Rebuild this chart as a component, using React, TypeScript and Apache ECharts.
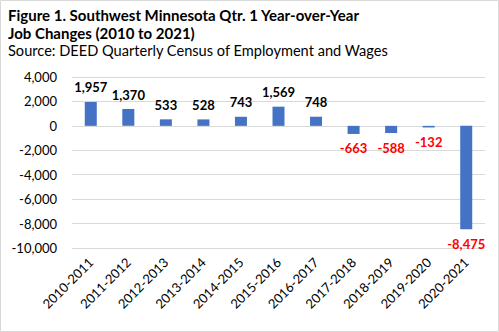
import React, { useEffect, useRef } from "react";
import * as echarts from "echarts";

const categories = [
  "2010-2011", "2011-2012", "2012-2013", "2013-2014", "2014-2015", "2015-2016",
  "2016-2017", "2017-2018", "2018-2019", "2019-2020", "2020-2021",
];
const jobChanges = [1957, 1370, 533, 528, 743, 1569, 748, -663, -588, -132, -8475];
const yTicks = { min: -10000, max: 4000, interval: 2000 };
const titleLines = [
  "Figure 1. Southwest Minnesota Qtr. 1 Year-over-Year",
  "Job Changes (2010 to 2021)",
];
const sourceLine = "Source: DEED Quarterly Census of Employment and Wages";

const FONT = "Lato, 'Liberation Sans', sans-serif";
const fmt = (v: number) => v.toLocaleString("en-US");

export default function App() {
  const ref = useRef<HTMLDivElement>(null);
  useEffect(() => {
    document.body.style.margin = "0";
    const chart = echarts.init(ref.current!, null, { renderer: "svg" });
    chart.setOption({
      animation: false,
      backgroundColor: "#ffffff",
      textStyle: { fontFamily: FONT },
      graphic: [
        {
          type: "rect",
          shape: { x: 0.5, y: 0.5, width: 498, height: 331 },
          style: { fill: "none", stroke: "#d9d9d9", lineWidth: 1 },
          silent: true,
        },
        {
          type: "text",
          x: 8,
          y: 15,
          style: {
            text: titleLines[0],
            font: `bold 15px ${FONT}`,
            fill: "#000",
            verticalAlign: "middle",
          },
        },
        {
          type: "text",
          x: 8,
          y: 33,
          style: {
            text: titleLines[1],
            font: `bold 15px ${FONT}`,
            fill: "#000",
            verticalAlign: "middle",
          },
        },
        {
          type: "text",
          x: 8,
          y: 50,
          style: {
            text: sourceLine,
            font: `14.6px ${FONT}`,
            fill: "#000",
            verticalAlign: "middle",
          },
        },
      ],
      grid: { left: 72, right: 14, top: 77, bottom: 84, containLabel: false },
      xAxis: {
        type: "category",
        data: categories,
        axisLine: { show: false, onZero: false },
        axisTick: { show: false },
        axisLabel: {
          rotate: 45,
          interval: 0,
          margin: 12,
          fontSize: 13,
          color: "#000",
          fontFamily: FONT,
        },
      },
      yAxis: {
        type: "value",
        min: yTicks.min,
        max: yTicks.max,
        interval: yTicks.interval,
        axisLine: { show: false },
        axisTick: { show: false },
        splitLine: { lineStyle: { color: "#d9d9d9", width: 1 } },
        axisLabel: {
          margin: 15,
          fontSize: 13,
          color: "#000",
          fontFamily: FONT,
          formatter: (v: number) => fmt(v),
        },
      },
      series: [
        {
          type: "bar",
          barWidth: 12,
          itemStyle: { color: "#4472C4" },
          data: jobChanges.map((v) => ({
            value: v,
            label: {
              show: true,
              position: v >= 0 ? "top" : "bottom",
              distance: 8,
              color: v >= 0 ? "#000" : "#FF0000",
              fontWeight: "bold",
              fontSize: 13,
              fontFamily: FONT,
              formatter: () => fmt(v),
            },
          })),
        },
      ],
    });
    return () => chart.dispose();
  }, []);
  return <div ref={ref} style={{ width: 499, height: 332 }} />;
}
